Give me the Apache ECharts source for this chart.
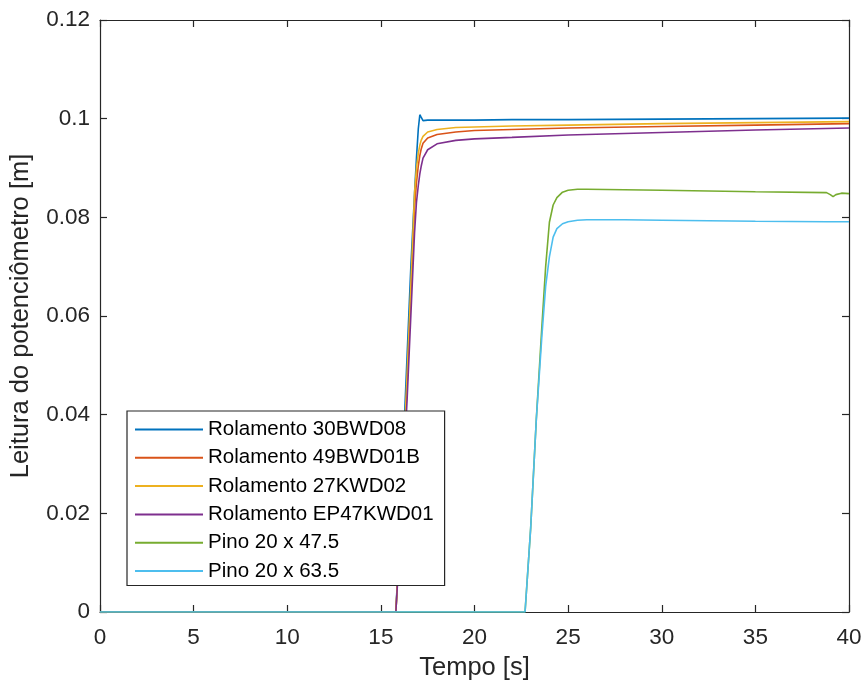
<!DOCTYPE html>
<html>
<head>
<meta charset="utf-8">
<script src="https://cdn.jsdelivr.net/npm/echarts@6/dist/echarts.min.js"></script>
<style>
  html, body { margin: 0; padding: 0; background: #ffffff; }
  #chart { width: 867px; height: 688px; }
</style>
</head>
<body>
<div id="chart"></div>
<script>
// Time stamps (s) for the bearing tests
const timeRol = [0, 15.8, 16.0, 16.2, 16.4, 16.6, 16.8, 16.9, 17.0, 17.08, 17.15, 17.25, 17.5, 18, 19, 20, 22, 25, 30, 35, 40];
// Potentiometer readings (m)
const rol30BWD08   = [0, 0, 0.016, 0.034, 0.052, 0.070, 0.085, 0.092, 0.098, 0.1008, 0.1003, 0.0996, 0.0997, 0.0997, 0.0997, 0.0997, 0.0998, 0.0998, 0.0999, 0.1000, 0.1001];
const rol49BWD01B  = [0, 0, 0.014, 0.030, 0.046, 0.064, 0.082, 0.087, 0.0905, 0.0925, 0.0938, 0.0950, 0.0961, 0.0968, 0.0973, 0.0976, 0.0978, 0.0981, 0.0984, 0.0987, 0.0990];
const rol27KWD02   = [0, 0, 0.014, 0.031, 0.048, 0.066, 0.085, 0.090, 0.0930, 0.0946, 0.0956, 0.0964, 0.0973, 0.0978, 0.0982, 0.0983, 0.0985, 0.0987, 0.0990, 0.0992, 0.0994];
const rolEP47KWD01 = [0, 0, 0.013, 0.028, 0.043, 0.060, 0.077, 0.083, 0.0865, 0.0888, 0.0903, 0.0920, 0.0937, 0.0949, 0.0956, 0.0959, 0.0962, 0.0967, 0.0972, 0.0977, 0.0981];

// Time stamps (s) for the pin tests
const timePino = [0, 22.7, 23.0, 23.3, 23.6, 23.8, 24.0, 24.2, 24.4, 24.7, 25.0, 25.5, 26, 28, 30, 35, 38.8, 39.0, 39.15, 39.3, 39.6, 40];
const pino20x475 = [0, 0, 0.017, 0.039, 0.058, 0.070, 0.079, 0.0825, 0.0840, 0.0851, 0.0855, 0.0857, 0.0857, 0.0856, 0.0855, 0.0852, 0.0850, 0.0846, 0.0842, 0.0846, 0.0849, 0.0848];
const pino20x635 = [0, 0, 0.017, 0.039, 0.056, 0.066, 0.072, 0.0760, 0.0777, 0.0787, 0.0791, 0.0794, 0.0795, 0.0795, 0.0794, 0.0792, 0.0791, 0.0791, 0.0791, 0.0791, 0.0791, 0.0791];

const seriesNames = [
  'Rolamento 30BWD08',
  'Rolamento 49BWD01B',
  'Rolamento 27KWD02',
  'Rolamento EP47KWD01',
  'Pino 20 x 47.5',
  'Pino 20 x 63.5'
];
const seriesColors = ['#0072BD', '#D95319', '#EDB120', '#7E2F8E', '#77AC30', '#4DBEEE'];
const seriesTimes = [timeRol, timeRol, timeRol, timeRol, timePino, timePino];
const seriesValues = [rol30BWD08, rol49BWD01B, rol27KWD02, rolEP47KWD01, pino20x475, pino20x635];

const xTicks = { min: 0, max: 40, interval: 5 };
const yTicks = { min: 0, max: 0.12, interval: 0.02 };

const axisColor = '#262626';
const fontFamily = 'Liberation Sans, Arial, Helvetica, sans-serif';

function zip(t, v) { return t.map((x, i) => [x, v[i]]); }

const chart = echarts.init(document.getElementById('chart'), null, { renderer: 'canvas' });

const baseX = {
  type: 'value', min: xTicks.min, max: xTicks.max, interval: xTicks.interval,
  axisLine: { show: true, onZero: false, lineStyle: { color: axisColor, width: 1.2 } },
  axisTick: { show: true, inside: true, length: 7, lineStyle: { color: axisColor, width: 1.2 } },
  splitLine: { show: false }
};
const baseY = {
  type: 'value', min: yTicks.min, max: yTicks.max, interval: yTicks.interval,
  axisLine: { show: true, onZero: false, lineStyle: { color: axisColor, width: 1.2 } },
  axisTick: { show: true, inside: true, length: 7, lineStyle: { color: axisColor, width: 1.2 } },
  splitLine: { show: false }
};

chart.setOption({
  animation: false,
  backgroundColor: '#ffffff',
  grid: { left: 100, top: 20, right: 18, bottom: 76, containLabel: false },
  legend: {
    orient: 'vertical',
    left: 127, top: 411,
    padding: [8, 11, 4, 8],
    itemGap: 7.3,
    itemWidth: 68, itemHeight: 2,
    icon: 'rect',
    backgroundColor: '#ffffff',
    borderColor: axisColor, borderWidth: 1.2,
    textStyle: { fontFamily: fontFamily, fontSize: 20.5, color: '#000000', lineHeight: 20 },
    data: seriesNames
  },
  xAxis: [
    Object.assign({}, baseX, {
      position: 'bottom',
      name: 'Tempo [s]', nameLocation: 'middle', nameGap: 43,
      nameTextStyle: { fontFamily: fontFamily, fontSize: 25.5, color: axisColor },
      axisLabel: { show: true, margin: 14, fontFamily: fontFamily, fontSize: 22.5, color: axisColor }
    }),
    Object.assign({}, baseX, { position: 'top', axisLabel: { show: false } })
  ],
  yAxis: [
    Object.assign({}, baseY, {
      position: 'left',
      name: 'Leitura do potenciômetro [m]', nameLocation: 'middle', nameGap: 66,
      nameTextStyle: { fontFamily: fontFamily, fontSize: 25.5, color: axisColor },
      axisLabel: { show: true, margin: 10, fontFamily: fontFamily, fontSize: 22.5, color: axisColor }
    }),
    Object.assign({}, baseY, { position: 'right', axisLabel: { show: false } })
  ],
  series: seriesNames.map((name, i) => ({
    name: name,
    type: 'line',
    xAxisIndex: 0, yAxisIndex: 0,
    symbol: 'none',
    smooth: false,
    color: seriesColors[i],
    lineStyle: { color: seriesColors[i], width: 1.6 },
    data: zip(seriesTimes[i], seriesValues[i])
  }))
});
</script>
</body>
</html>
